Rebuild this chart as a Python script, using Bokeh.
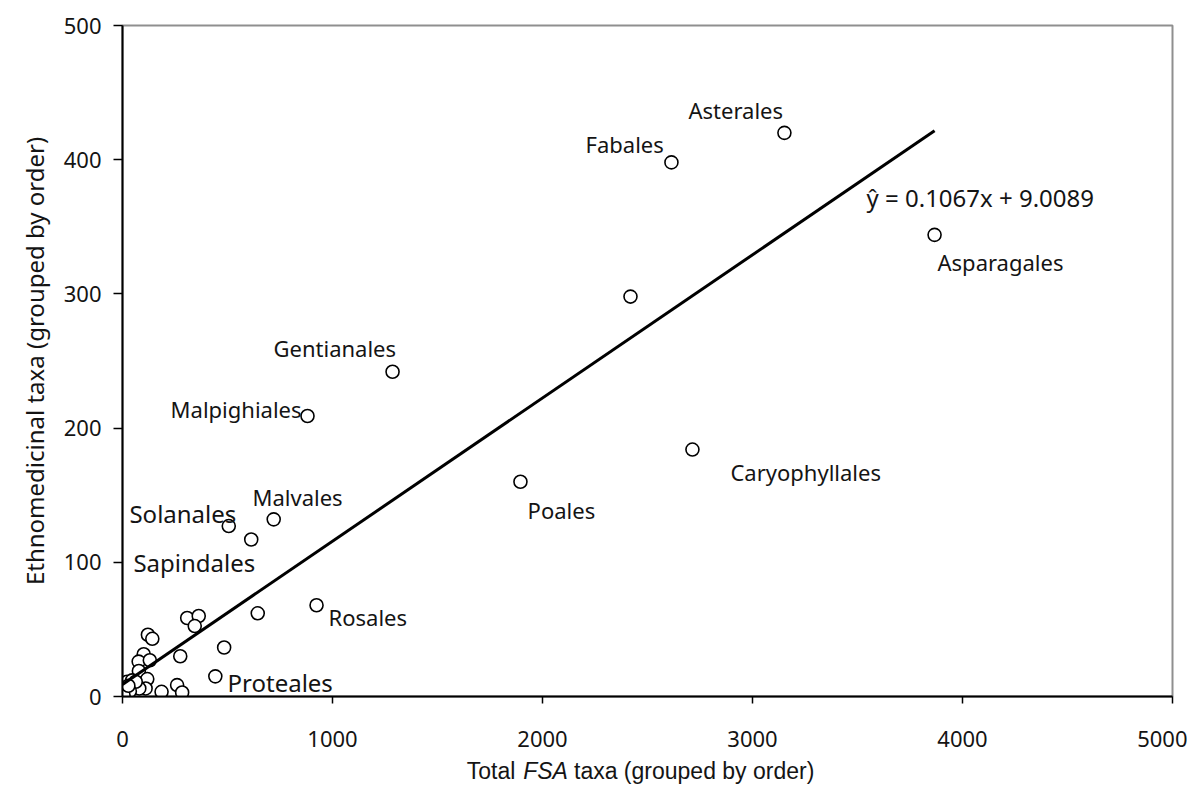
from bokeh.plotting import figure
from bokeh.models import Range1d, ColumnDataSource, Label, FixedTicker, Title
from bokeh.layouts import column
from bokeh.core.properties import value
from bokeh.embed import file_html
from bokeh.resources import INLINE

# ---------------- data ----------------
fsa_taxa = [3152, 2614, 2419, 3867, 1286, 881, 2714, 1895,
            720, 506, 613, 644, 924, 484, 442,
            308, 363, 344, 121, 142, 275, 101, 77, 130, 78, 118, 110,
            186, 260, 284, 80, 22, 46, 63, 14, 8, 35, 5, 28]
ethno_taxa = [420, 398, 298, 344, 242, 209, 184, 160,
              132, 127, 117, 62, 68, 36.5, 15,
              58.5, 60, 52.5, 46, 43, 30, 31.5, 26, 27, 19, 13, 6,
              3.5, 8.5, 3, 6, 11, 12, 11, 0.5, 2, 4, 1, 8]

label_names = ["Asterales", "Fabales", "Asparagales", "Gentianales", "Malpighiales",
               "Caryophyllales", "Poales", "Malvales", "Solanales", "Sapindales",
               "Rosales", "Proteales"]

slope = 0.1067
intercept = 9.0089
equation_text = "\u0177 = 0.1067x + 9.0089"

x_ticks = [0, 1000, 2000, 3000, 4000, 5000]
y_ticks = [0, 100, 200, 300, 400, 500]

x_title_parts = ["Total", "FSA", "taxa (grouped by order)"]
y_title = "Ethnomedicinal taxa (grouped by order)"

# ---------------- label placement (styling) ----------------
label_anchor = {
    "Asterales": (2695, 436.7, "22px"),
    "Fabales": (2205, 412, "22px"),
    "Asparagales": (3881, 323.4, "22px"),
    "Gentianales": (719, 260, "22px"),
    "Malpighiales": (229, 214.6, "22px"),
    "Caryophyllales": (2895, 167, "22px"),
    "Poales": (1929, 138.6, "22px"),
    "Malvales": (619, 148.3, "22px"),
    "Solanales": (33, 136.4, "24px"),
    "Sapindales": (52, 100, "24px"),
    "Rosales": (981, 59, "22px"),
    "Proteales": (500, 10.4, "24px"),
}

FONT = "Noto Sans"
TITLE_FONT = "Liberation Sans"
TXT = "#141414"
W = 1187
H_MAIN = 756
H_STRIP = 28
B_LEFT = 122
B_RIGHT = 15

p = figure(width=W, height=H_MAIN, output_backend="svg", toolbar_location=None,
           x_range=Range1d(0, 5000), y_range=Range1d(0, 500),
           min_border_left=B_LEFT, min_border_right=B_RIGHT, min_border_top=25,
           min_border_bottom=H_MAIN - 696)
p.background_fill_color = "white"
p.border_fill_color = "white"
p.outline_line_color = "#8f8f8f"
p.outline_line_width = 2
p.xgrid.visible = False
p.ygrid.visible = False

# axes
p.xaxis.ticker = FixedTicker(ticks=x_ticks)
p.yaxis.ticker = FixedTicker(ticks=y_ticks)
for ax in (p.xaxis, p.yaxis):
    ax.axis_line_color = "black"
    ax.axis_line_width = 2
    ax.major_tick_line_color = "black"
    ax.major_tick_line_width = 1.5
    ax.major_tick_in = 0
    ax.minor_tick_line_color = None
    ax.major_label_text_font = FONT
    ax.major_label_text_font_size = "22px"
    ax.major_label_text_color = TXT
p.xaxis.major_tick_out = 7
p.xaxis.major_label_standoff = 27
p.yaxis.major_tick_out = 9
p.yaxis.major_label_standoff = 12

# y-axis title
p.add_layout(Title(text=y_title, align="center", offset=33, standoff=19,
                   text_font=FONT, text_font_size="24px", text_font_style="normal",
                   text_color=TXT), "left")

# points
src = ColumnDataSource(dict(x=fsa_taxa, y=ethno_taxa))
p.scatter("x", "y", source=src, marker="circle", size=13, fill_color="white",
          line_color="black", line_width=1.6)

# trendline
x_max = max(fsa_taxa)
p.line([0, x_max], [intercept, slope * x_max + intercept], line_color="black", line_width=3)

# point labels
lab_src = ColumnDataSource(dict(
    x=[label_anchor[n][0] for n in label_names],
    y=[label_anchor[n][1] for n in label_names],
    t=label_names,
    fs=[label_anchor[n][2] for n in label_names],
))
p.text("x", "y", text="t", source=lab_src, text_font=value(FONT), text_font_size="fs",
       text_color=TXT, text_align="left", text_baseline="middle")

# equation
p.add_layout(Label(x=3543, y=371.8, text=equation_text, text_font=FONT,
                   text_font_size="24px", text_color=TXT, text_align="left",
                   text_baseline="middle"))

# strip below for the x-axis title (mixed italic)
s = figure(width=W, height=H_STRIP, output_backend="svg", toolbar_location=None,
           x_range=p.x_range, y_range=Range1d(0, H_STRIP),
           min_border_left=B_LEFT, min_border_right=B_RIGHT, min_border_top=0,
           min_border_bottom=0)
s.axis.visible = False
s.grid.visible = False
s.outline_line_color = None
s.background_fill_color = "white"
s.border_fill_color = "white"
ty = 14
TFS = "23px"
s.text([1871], [ty], text=[x_title_parts[0]], text_font=value(TITLE_FONT), text_font_size=TFS,
       text_color=TXT, text_align="right", text_baseline="middle")
s.text([1908], [ty], text=[x_title_parts[1]], text_font=value(TITLE_FONT), text_font_size=TFS,
       text_font_style="italic", text_color=TXT, text_align="left", text_baseline="middle")
s.text([2150], [ty], text=[x_title_parts[2]], text_font=value(TITLE_FONT), text_font_size=TFS,
       text_color=TXT, text_align="left", text_baseline="middle")

layout = column(p, s, spacing=0)
open("out.html", "w").write(file_html(layout, INLINE))
